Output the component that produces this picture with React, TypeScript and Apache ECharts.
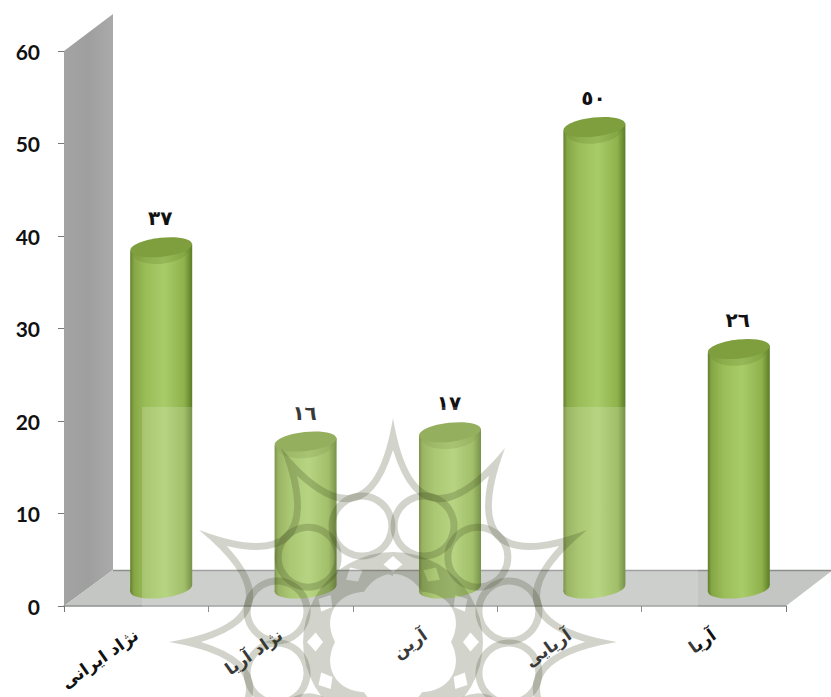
import React, { useEffect, useRef } from "react";
import * as echarts from "echarts";

const categories = ["نژاد ایرانی", "نژاد آریا", "آرین", "آریایی", "آریا"];
const values = [37, 16, 17, 50, 26];
const valueLabels = ["٣٧", "١٦", "١٧", "٥٠", "٢٦"];
const yTicks = [0, 10, 20, 30, 40, 50, 60];

const W = 831, H = 697;
const AX_L = 64, AX_R = 786, AX_T = 51, AX_B = 606;
const DX = 25, DY = 16.5, RX = 31, RY = 9.5, TILT = 0.11;
const WM = "rgba(50,60,25,0.22)";
const CX = 393, CY = 642;

function pt(r: number, deg: number) {
  const a = (deg * Math.PI) / 180;
  return `${(r * Math.sin(a)).toFixed(1)} ${(-r * Math.cos(a)).toFixed(1)}`;
}
function star(R: number, rc: number, dir: number) {
  let d = `M${pt(R, 0)}`;
  for (let i = 0; i < 12; i++) {
    const a = dir * 30 * i;
    d += `Q${pt(rc, a + dir * 15)} ${pt(R, a + dir * 30)}`;
  }
  return d + "Z";
}
function core() {
  // Ornamental inner band of the watermark: a disc with a lobed centre and twelve diamond holes.
  let d = `M${pt(90, 0)}`;
  for (let i = 1; i <= 48; i++) d += `L${pt(90, 7.5 * i)}`;
  d += "Z";
  d += `M${pt(66, 0)}`;
  for (let i = 1; i <= 96; i++) {
    const a = -3.75 * i;
    const r = 58 + 10 * Math.abs(Math.cos((a * Math.PI) / 60));
    d += `L${pt(r, a)}`;
  }
  d += "Z";
  for (let i = 0; i < 12; i++) {
    const a = 30 * i;
    d += `M${pt(86, a)}L${pt(78, a - 7)}L${pt(70, a)}L${pt(78, a + 7)}Z`;
  }
  return d;
}
echarts.graphic.registerShape("rosette", echarts.graphic.extendPath((star(224, 90, 1) + star(192, 106, -1)) as any, {}) as any);
echarts.graphic.registerShape("rosetteCore", echarts.graphic.extendPath(core() as any, {}) as any);

const sideGrad = new echarts.graphic.LinearGradient(0, 0, 1, 0, [
  { offset: 0, color: "#617f2a" },
  { offset: 0.06, color: "#86a645" },
  { offset: 0.25, color: "#9abd58" },
  { offset: 0.55, color: "#a8cc69" },
  { offset: 0.87, color: "#8fb24c" },
  { offset: 1, color: "#5c7d25" },
]);

function renderCylinder(params: any, api: any) {
  const idx = params.dataIndex;
  const top = api.coord([api.value(0), api.value(1)]);
  const base = api.coord([api.value(0), 0]);
  const cx = top[0] + DX;
  const ty = top[1] - DY;
  const by = base[1] - DY;
  const sy = RX * Math.sin(TILT);
  return {
    type: "group",
    children: [
      {
        type: "ellipse", x: cx, y: by - 1, rotation: TILT,
        shape: { cx: 0, cy: 0, rx: RX, ry: RY },
        style: { fill: sideGrad },
      },
      {
        type: "polygon",
        shape: { points: [[cx - RX, ty + sy], [cx + RX, ty - sy], [cx + RX, by - 1 - sy], [cx - RX, by - 1 + sy]] },
        style: { fill: sideGrad },
      },
      {
        type: "ellipse", x: cx, y: ty + 4, rotation: TILT,
        shape: { cx: 0, cy: 0, rx: RX - 3, ry: RY + 3 },
        style: { fill: "rgba(110,140,50,0.3)" },
      },
      {
        type: "ellipse", x: cx, y: ty, rotation: TILT,
        shape: { cx: 0, cy: 0, rx: RX, ry: RY },
        style: { fill: "#7f9f3e" },
      },
      {
        type: "text", x: cx - 1, y: ty - 29,
        style: {
          text: valueLabels[idx], fill: "#111", align: "center", verticalAlign: "middle",
          font: 'bold 20px "DejaVu Sans"',
        },
      },
    ],
  };
}

export default function App() {
  const ref = useRef<HTMLDivElement>(null);
  useEffect(() => {
    document.body.style.margin = "0";
    const chart = echarts.init(ref.current!, null, { renderer: "svg" });
    const rings: any[] = [];
    for (let i = 0; i < 12; i++) {
      const a = ((15 + 30 * i) * Math.PI) / 180;
      rings.push({
        type: "circle", z: 100, silent: true,
        shape: { cx: CX + 120 * Math.sin(a), cy: CY - 120 * Math.cos(a), r: 30 },
        style: { fill: "none", stroke: WM, lineWidth: 7 },
      });
    }
    chart.setOption({
      animation: false,
      backgroundColor: "#ffffff",
      grid: { left: AX_L, right: W - AX_R, top: AX_T, bottom: H - AX_B, outerBoundsMode: "none" },
      xAxis: {
        type: "category",
        data: categories,
        boundaryGap: true,
        axisLine: { show: true, lineStyle: { color: "#8f9391", width: 1.5 } },
        axisTick: { show: true, alignWithLabel: false, length: 6, lineStyle: { color: "#777" } },
        axisLabel: {
          interval: 0, rotate: 35, margin: 27, color: "#111",
          fontFamily: "DejaVu Sans", fontSize: 17, fontWeight: "bold",
        },
      },
      yAxis: {
        type: "value",
        min: yTicks[0],
        max: yTicks[yTicks.length - 1],
        interval: 10,
        splitLine: { show: false },
        axisLine: { show: false },
        axisTick: { show: true, length: 6, lineStyle: { color: "#777" } },
        axisLabel: { margin: 24, color: "#111", fontFamily: "Lato", fontSize: 21, fontWeight: "bold" },
      },
      graphic: {
        elements: [
          {
            type: "polygon", z: 0, silent: true,
            shape: { points: [[AX_L, AX_T], [113, 14], [113, 570], [AX_L, AX_B]] },
            style: {
              fill: new echarts.graphic.LinearGradient(0, 0, 1, 0, [
                { offset: 0, color: "#a3a3a3" },
                { offset: 0.5, color: "#9f9f9f" },
                { offset: 1, color: "#aaaaaa" },
              ]),
            },
          },
          {
            type: "polygon", z: 0, silent: true,
            shape: { points: [[AX_L, AX_B], [113, 570], [W + 2, 570], [AX_R, AX_B]] },
            style: { fill: "#c3c6c3" },
          },
          {
            type: "line", z: 0, silent: true,
            shape: { x1: 113, y1: 570.5, x2: W, y2: 570.5 },
            style: { stroke: "#8d8f8d", lineWidth: 1.5 },
          },
          {
            type: "rect", z: 90, silent: true,
            shape: { x: 142, y: 407, width: 556, height: H - 407 },
            style: { fill: "rgba(255,255,255,0.17)" },
          },
          { type: "rosette", z: 100, silent: true, x: CX, y: CY, style: { fill: WM } },
          { type: "rosetteCore", z: 100, silent: true, x: CX, y: CY, style: { fill: WM } },
          ...rings,
        ],
      },
      series: [
        {
          type: "custom",
          coordinateSystem: "cartesian2d",
          z: 10,
          data: values.map((v, i) => [i, v]),
          renderItem: renderCylinder,
          clip: false,
        },
      ],
    });
    return () => chart.dispose();
  }, []);
  return <div ref={ref} style={{ position: "absolute", left: 0, top: 0, width: W, height: H }} />;
}
